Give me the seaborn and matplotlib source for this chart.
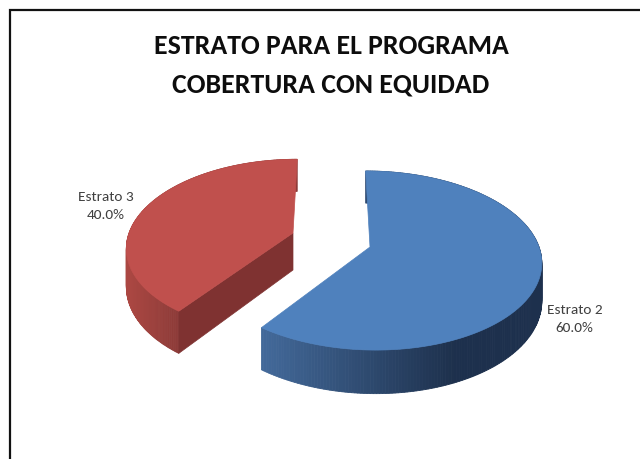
import numpy as np
import matplotlib
matplotlib.use("Agg")
import matplotlib.pyplot as plt
import seaborn as sns

categories = ["Estrato 2", "Estrato 3"]
values = [60.0, 40.0]
title_lines = ["ESTRATO PARA EL PROGRAMA", "COBERTURA CON EQUIDAD"]

top_colors = ["#4F81BD", "#C0504D"]
cut_colors = ["#1F3552", "#7F3231"]
wall_light = [(0.26, 0.41, 0.60), (0.67, 0.28, 0.26)]
wall_dark = [(0.115, 0.19, 0.30), (0.55, 0.23, 0.22)]
wall_span = [(266, 455), (129, 180)]
apexes = [(370, 248), (293, 234)]
tilts = [-5.0, 5.0]
scales = [1.0, 0.97]
label_pos = [(574.5, 319), (106, 206.5)]

RX, RY, PERSP, DEPTH = 169.0, 87.5, 0.151, 37.0

sns.set_theme(style="white")
plt.rcParams["font.family"] = ["Carlito", "Lato", "DejaVu Sans"]

fig = plt.figure(figsize=(6.4, 4.6), dpi=100)
ax = fig.add_axes([0, 0, 1, 1])
ax.set_xlim(0, 640)
ax.set_ylim(460, 0)
ax.axis("off")


def project(theta, apex, tilt, scale, drop=0.0):
    cx, sy = np.cos(theta), np.sin(theta)
    w = 1 + PERSP * sy
    return (apex[0] + scale * (RX * cx + tilt * sy) / w,
            apex[1] + (-scale * RY * sy + drop) / w)


total = sum(values)
start = np.pi / 2
for i, v in enumerate(values):
    end = start - 2 * np.pi * v / total
    theta = np.linspace(start, end, 240)
    apex, tilt, scale = apexes[i], tilts[i], scales[i]
    xt, yt = project(theta, apex, tilt, scale)
    xb, yb = project(theta, apex, tilt, scale, DEPTH)

    # outer wall, shaded across the visible width
    lo, hi = wall_span[i]
    light, dark = np.array(wall_light[i]), np.array(wall_dark[i])
    for k in range(len(theta) - 1):
        f = np.clip((xt[k] - lo) / (hi - lo), 0, 1)
        c = light + (dark - light) * f
        ax.fill([xt[k], xt[k + 1], xb[k + 1], xb[k]],
                [yt[k], yt[k + 1], yb[k + 1], yb[k]],
                facecolor=c, edgecolor=c, lw=0.6, zorder=2)

    # straight cut face (visible on the exploded slice, whose arc begins at theta[0])
    if i == 1:
        ax.fill([xt[0], apex[0], apex[0], xb[0]],
                [yt[0], apex[1], apex[1] + DEPTH, yb[0]],
                facecolor=cut_colors[i], edgecolor=cut_colors[i], lw=0.5, zorder=3)

    # top face
    ax.fill(np.r_[apex[0], xt], np.r_[apex[1], yt],
            facecolor=top_colors[i], edgecolor=top_colors[i], lw=0.5, zorder=4)

    ax.text(*label_pos[i], f"{categories[i]}\n{v / total:.1%}", ha="center",
            va="center", fontsize=11, color="#404040", linespacing=1.6, zorder=5)
    start = end

ax.plot([640, 10, 10], [11, 11, 460], color="#111111", lw=1.6, zorder=6,
        solid_joinstyle="miter")

ax.text(331.5, 46.5, title_lines[0], ha="center", va="center", fontsize=20,
        fontweight="bold", color="#0d0d0d")
ax.text(331, 85, title_lines[1], ha="center", va="center", fontsize=20,
        fontweight="bold", color="#0d0d0d")

fig.savefig("out.png", dpi=100, facecolor="white")
